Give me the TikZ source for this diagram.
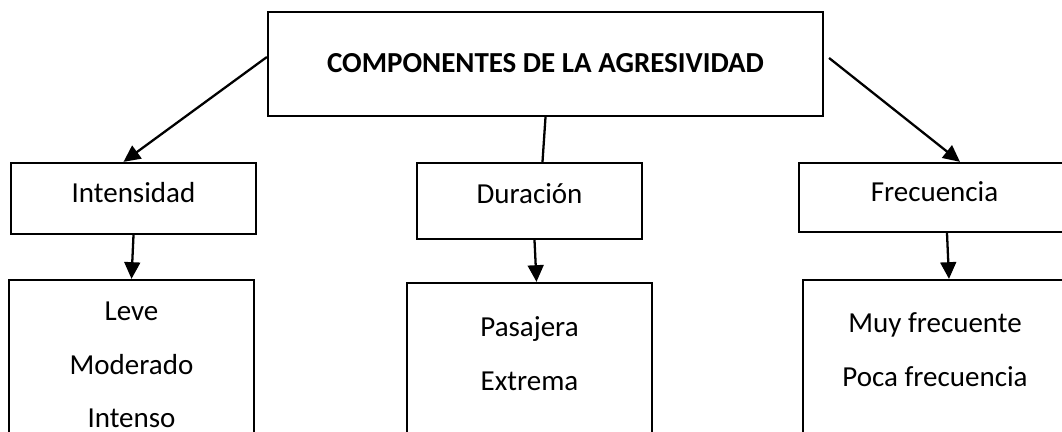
\documentclass[tikz,border=0pt]{standalone}
\usepackage{fontspec}
\setmainfont{Carlito}
\usetikzlibrary{arrows.meta}

\begin{document}
\begin{tikzpicture}[x=0.02cm, y=-0.02cm, line width=1.3pt,
  box/.style={draw, rectangle, inner sep=0pt, text height=12pt, text depth=7pt,
    font=\fontsize{16.5}{19}\selectfont},
  lista/.style={align=center, inner sep=0pt, font=\fontsize{16.5}{30.5}\selectfont},
  arr/.style={-{Triangle[length=9.5pt,width=9pt]}}]

\clip (0,0) rectangle (1062,432);

\coordinate (T) at (545.5,64);
\coordinate (I) at (133.5,198.5);
\coordinate (D) at (529.5,201);
\coordinate (F) at (934.5,197.5);
\coordinate (L) at (131.5,375);
\coordinate (P) at (529.5,376.5);
\coordinate (M) at (935,375);

\node [box, minimum width=11.1cm, minimum height=2.08cm, text height=12pt, text depth=2pt,
  font=\fontsize{16.5}{19}\selectfont\bfseries]
  (top) at (T) {COMPONENTES DE LA AGRESIVIDAD};

\node [box, minimum width=4.9cm, minimum height=1.42cm] (int) at (I) {Intensidad};
\node [box, minimum width=4.5cm, minimum height=1.52cm, text depth=9pt] (dur) at (D) {Duración};
\node [box, minimum width=5.42cm, minimum height=1.38cm] (fre) at (F) {Frecuencia};

\node [box, minimum width=4.9cm, minimum height=3.8cm] (leve) at (L) {};
\node [box, minimum width=4.9cm, minimum height=3.74cm] (pas) at (P) {};
\node [box, minimum width=5.28cm, minimum height=3.8cm] (muy) at (M) {};

\node [lista] (leveT) at (131.5,365) {Leve\\Moderado\\Intenso};
\node [lista] (pasT) at (529.5,353.5) {Pasajera\\Extrema};
\node [lista] (muyT) at (935,349.5) {Muy frecuente\\Poca frecuencia};

\draw [arr] ([yshift=0.14cm]top.west) -- ([xshift=-0.2cm]int.north);
\draw [arr] ([xshift=0.1cm,yshift=0.12cm]top.east) -- ([xshift=0.51cm]fre.north);
\draw (top.south) -- ([xshift=-0.06cm]top.south |- dur.north);

\draw [arr] (int.south) -- (leve.north);
\draw [arr] ([xshift=0.1cm]dur.south) -- ([xshift=0.14cm]pas.north);
\draw [arr] ([xshift=0.25cm]fre.south) -- ([xshift=0.28cm]muy.north);

\end{tikzpicture}
\end{document}
